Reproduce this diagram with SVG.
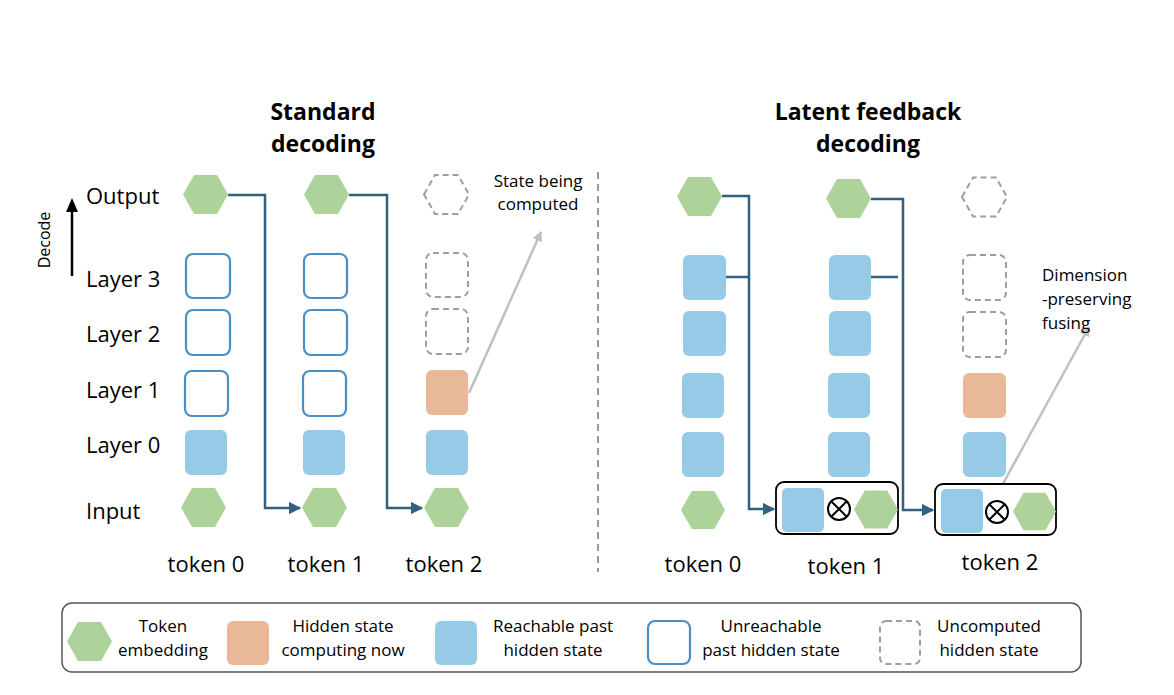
<svg xmlns="http://www.w3.org/2000/svg" width="1174" height="695" viewBox="0 0 1174 695">
<defs>
<style>
text{font-family:"Open Sans","Liberation Sans",sans-serif;fill:#000}
.lbl{font-size:22px}
.tk{font-size:22px;text-anchor:middle}
.ttl{font-size:23px;font-weight:bold;text-anchor:middle}
.note{font-size:17px;text-anchor:middle}
.lg{font-size:17px;text-anchor:middle}
.hex{fill:#add39a}
.hexd{fill:none;stroke:#9e9e9e;stroke-width:2;stroke-dasharray:6 4}
.blue{fill:#97cae6}
.org{fill:#e9b898}
.unr{fill:#fff;stroke:#4a90c4;stroke-width:2.2}
.unc{fill:none;stroke:#9e9e9e;stroke-width:2;stroke-dasharray:6 4}
.con{fill:none;stroke:#33607f;stroke-width:2.5}
.gray{fill:none;stroke:#c0c0c0;stroke-width:2.5}
.box{fill:#fff;stroke:#000;stroke-width:1.8}
</style>
<marker id="ah" viewBox="0 0 10 10" refX="9" refY="5" markerWidth="5" markerHeight="5" orient="auto" markerUnits="strokeWidth"><path d="M0,0L10,5L0,10z" fill="#33607f"/></marker>
<marker id="ag" viewBox="0 0 10 10" refX="9" refY="5" markerWidth="4" markerHeight="4" orient="auto" markerUnits="strokeWidth"><path d="M0,0L10,5L0,10z" fill="#c0c0c0"/></marker>
<symbol id="hx" viewBox="0 0 45 39" overflow="visible"><polygon points="0,19.5 11,0 34,0 45,19.5 34,39 11,39"/></symbol>
</defs>
<rect width="1174" height="695" fill="#fff"/>

<g id="titles">
<text class="ttl" x="323" y="120">Standard</text>
<text class="ttl" x="323" y="152">decoding</text>
<text class="ttl" x="868" y="120">Latent feedback</text>
<text class="ttl" x="868" y="152">decoding</text>
</g>

<g id="axis">
<line x1="72" y1="276" x2="72" y2="208" stroke="#000" stroke-width="2.5"/>
<path d="M66,212 L72,198 L78,212z" fill="#000"/>
<text x="50" y="240" font-size="16" text-anchor="middle" transform="rotate(-90 50 240)">Decode</text>
</g>
<g id="rowlabels">
<text class="lbl" x="86" y="204">Output</text>
<text class="lbl" x="86" y="287">Layer 3</text>
<text class="lbl" x="86" y="342">Layer 2</text>
<text class="lbl" x="86" y="398">Layer 1</text>
<text class="lbl" x="86" y="453">Layer 0</text>
<text class="lbl" x="86" y="519">Input</text>
</g>

<line x1="598" y1="172" x2="598" y2="572" stroke="#999" stroke-width="2" stroke-dasharray="7 5"/>

<g id="connectors">
<polyline class="con" points="228,195 265,195 265,508 300,508" marker-end="url(#ah)"/>
<polyline class="con" points="349,195 387,195 387,508 422,508" marker-end="url(#ah)"/>
<polyline class="gray" points="469,393 541,232" marker-end="url(#ag)"/>
<polyline class="con" points="722,196 749,196 749,509 774,509" marker-end="url(#ah)"/>
<line class="con" x1="726" y1="277" x2="749" y2="277"/>
<polyline class="con" points="871,199 903,199 903,510 933,510" marker-end="url(#ah)"/>
<line class="con" x1="871" y1="277" x2="898" y2="277"/>
<polyline class="gray" points="999,491 1089,327" marker-end="url(#ag)"/>
</g>

<g id="std-token0">
<use href="#hx" class="hex" x="183" y="175" width="45" height="39"/>
<rect class="unr" x="186" y="254" width="44" height="44" rx="7"/>
<rect class="unr" x="186" y="310" width="44" height="45" rx="7"/>
<rect class="unr" x="185" y="371" width="43" height="45" rx="7"/>
<rect class="blue" x="185" y="430" width="42" height="45" rx="6"/>
<use href="#hx" class="hex" x="181" y="488" width="45" height="39"/>
<text class="tk" x="206" y="572">token 0</text>
</g>
<g id="std-token1">
<use href="#hx" class="hex" x="304" y="175" width="45" height="39"/>
<rect class="unr" x="304" y="254" width="43" height="44" rx="7"/>
<rect class="unr" x="304" y="310" width="43" height="45" rx="7"/>
<rect class="unr" x="303" y="371" width="43" height="45" rx="7"/>
<rect class="blue" x="303" y="430" width="42" height="45" rx="6"/>
<use href="#hx" class="hex" x="302" y="488" width="45" height="39"/>
<text class="tk" x="326" y="572">token 1</text>
</g>
<g id="std-token2">
<use href="#hx" class="hexd" x="424" y="175" width="45" height="39"/>
<rect class="unc" x="426" y="253" width="42" height="44" rx="7"/>
<rect class="unc" x="426" y="309" width="42" height="45" rx="7"/>
<rect class="org" x="426" y="370" width="42" height="45" rx="6"/>
<rect class="blue" x="426" y="430" width="42" height="45" rx="6"/>
<use href="#hx" class="hex" x="424" y="488" width="45" height="39"/>
<text class="tk" x="444" y="572">token 2</text>
</g>
<g id="note1">
<text class="note" x="538" y="187">State being</text>
<text class="note" x="538" y="210">computed</text>
</g>

<g id="lf-token0">
<use href="#hx" class="hex" x="677" y="177" width="45" height="39"/>
<rect class="blue" x="683" y="255" width="43" height="45" rx="6"/>
<rect class="blue" x="683" y="311" width="43" height="45" rx="6"/>
<rect class="blue" x="682" y="373" width="42" height="45" rx="6"/>
<rect class="blue" x="682" y="432" width="42" height="45" rx="6"/>
<use href="#hx" class="hex" x="681" y="490" width="44" height="40"/>
<text class="tk" x="703" y="572">token 0</text>
</g>
<g id="lf-token1">
<use href="#hx" class="hex" x="826" y="179" width="45" height="39"/>
<rect class="blue" x="829" y="255" width="42" height="45" rx="6"/>
<rect class="blue" x="829" y="311" width="42" height="45" rx="6"/>
<rect class="blue" x="828" y="373" width="42" height="45" rx="6"/>
<rect class="blue" x="828" y="432" width="42" height="45" rx="6"/>
<rect class="box" x="776" y="482" width="122" height="52" rx="8"/>
<rect class="blue" x="782" y="488" width="42" height="44" rx="5"/>
<circle cx="839" cy="509" r="11" fill="none" stroke="#000" stroke-width="2"/>
<path d="M831.2,501.2L846.8,516.8M846.8,501.2L831.2,516.8" stroke="#000" stroke-width="2"/>
<use href="#hx" class="hex" x="854" y="490" width="44" height="39"/>
<text class="tk" x="846" y="574">token 1</text>
</g>
<g id="lf-token2">
<use href="#hx" class="hexd" x="962" y="177" width="45" height="40"/>
<rect class="unc" x="963" y="255" width="43" height="45" rx="7"/>
<rect class="unc" x="963" y="312" width="43" height="45" rx="7"/>
<rect class="org" x="963" y="373" width="43" height="45" rx="6"/>
<rect class="blue" x="963" y="432" width="43" height="45" rx="6"/>
<rect class="box" x="935" y="484" width="121" height="51" rx="8"/>
<rect class="blue" x="941" y="489" width="42" height="44" rx="5"/>
<circle cx="997" cy="512" r="11" fill="none" stroke="#000" stroke-width="2"/>
<path d="M989.2,504.2L1004.8,519.8M1004.8,504.2L989.2,519.8" stroke="#000" stroke-width="2"/>
<use href="#hx" class="hex" x="1013" y="492" width="43" height="39"/>
<text class="tk" x="1000" y="570">token 2</text>
</g>
<g id="note2">
<text class="note" x="1042" y="281" text-anchor="start" style="text-anchor:start">Dimension</text>
<text class="note" x="1042" y="305" style="text-anchor:start">-preserving</text>
<text class="note" x="1042" y="329" style="text-anchor:start">fusing</text>
</g>

<g id="legend">
<rect x="62" y="603" width="1019" height="69" rx="10" fill="#fff" stroke="#555" stroke-width="1.5"/>
<use href="#hx" class="hex" x="67" y="620" width="45" height="43"/>
<text class="lg" x="163" y="632">Token</text><text class="lg" x="163" y="656">embedding</text>
<rect class="org" x="227" y="621" width="42" height="44" rx="6"/>
<text class="lg" x="343" y="632">Hidden state</text><text class="lg" x="343" y="656">computing now</text>
<rect class="blue" x="435" y="621" width="42" height="44" rx="6"/>
<text class="lg" x="553" y="632">Reachable past</text><text class="lg" x="553" y="656">hidden state</text>
<rect class="unr" x="648" y="621" width="42" height="43" rx="7"/>
<text class="lg" x="771" y="632">Unreachable</text><text class="lg" x="771" y="656">past hidden state</text>
<rect class="unc" x="880" y="621" width="40" height="43" rx="6"/>
<text class="lg" x="989" y="632">Uncomputed</text><text class="lg" x="989" y="656">hidden state</text>
</g>
</svg>
